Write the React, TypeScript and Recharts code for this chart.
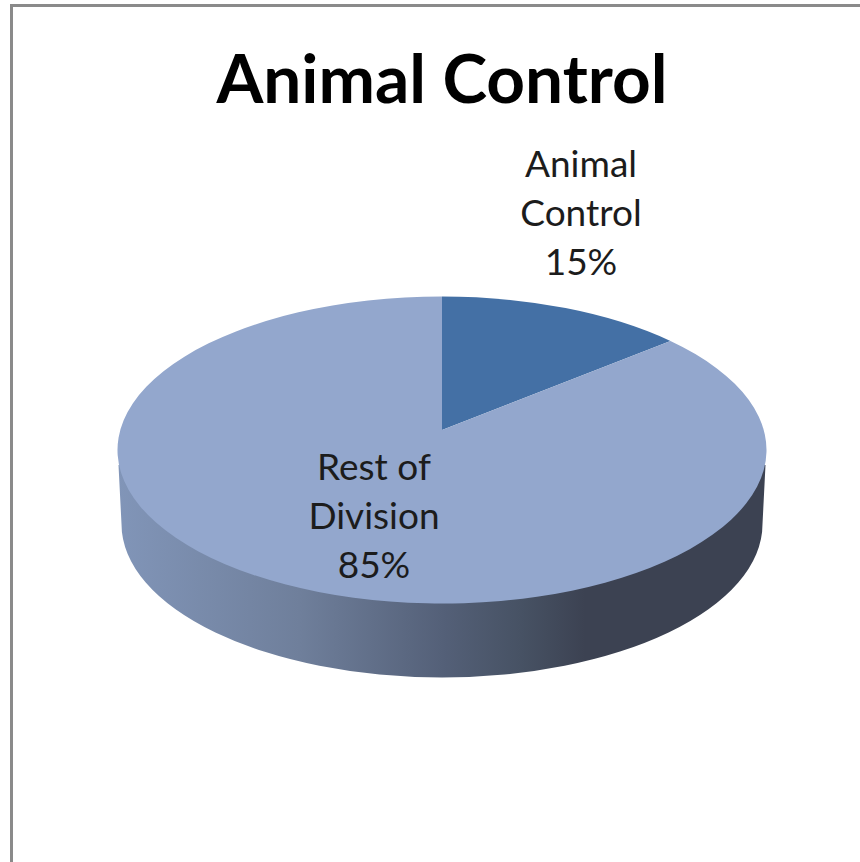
import { Pie, PieChart } from "recharts";

const categories = ["Animal Control", "Rest of Division"];
const shares = [15, 85];
const sliceColors = ["#4470A5", "#93A7CD"];
const labelLines = [["Animal", "Control"], ["Rest of", "Division"]];

const slices = categories.map((name, i) => ({ name, value: shares[i], fill: sliceColors[i] }));

const WIDTH = 860;
const HEIGHT = 862;
const CX = 442;
const CY = 450;
const RX = 324.5;
const FLATTEN = 153.5 / 324.5; // vertical squash of the tilted disc
const APEX_LIFT = 20; // perspective moves the visual centre up
const PERSPECTIVE = 0.21;
const WALL = 74;
const LABEL_FONT = "Lato, 'Open Sans', sans-serif";

// screen point on the rim for a recharts angle, with a projective warp so the
// far slices look narrower, the way Excel's 3D pie does
function rim(deg: number, cx: number, cy: number, r: number) {
  const t = ((90 - deg) * Math.PI) / 180;
  const u = Math.sin(t);
  const v = Math.cos(t);
  const d = 1 + PERSPECTIVE * v;
  return {
    x: cx + (r * u * Math.sqrt(1 - PERSPECTIVE * PERSPECTIVE)) / d,
    y: cy - (r * FLATTEN * (v + PERSPECTIVE)) / d,
  };
}

function TopSlice(props: any) {
  const { cx, cy, outerRadius: r, startAngle, endAngle, fill } = props;
  const a = rim(startAngle, cx, cy, r);
  const b = rim(endAngle, cx, cy, r);
  const large = Math.abs(endAngle - startAngle) > 180 ? 1 : 0;
  const d = `M${cx},${cy - APEX_LIFT} L${a.x},${a.y} A${r},${r * FLATTEN} 0 ${large} 1 ${b.x},${b.y} Z`;
  return <path d={d} fill={fill} stroke="none" />;
}

// side wall only shows for the front half, which belongs to the big slice
function WallSlice(props: any) {
  const { cx, cy, outerRadius: r, startAngle, endAngle } = props;
  if (Math.abs(endAngle - startAngle) < 180) return <g />;
  const ry = r * FLATTEN;
  const d = `M${cx - r + 1},${cy + 15} L${cx - r + 4},${cy + WALL} A${r - 4},${ry} 0 0 0 ${cx + r - 4},${cy + WALL} L${cx + r - 1},${cy + 15} Z`;
  return <path d={d} fill="url(#wallShade)" stroke="none" />;
}

function sliceLabel(props: any) {
  const { index, percent } = props;
  const x = index === 0 ? 581 : 374;
  const y = index === 0 ? 177 : 480;
  return (
    <text x={x} y={y} textAnchor="middle" fontFamily={LABEL_FONT} fontSize={37} fill="#1c1c1c">
      {labelLines[index].map((line, i) => (
        <tspan key={line} x={x} y={y + i * 49}>
          {line}
        </tspan>
      ))}
      <tspan x={x} y={y + 98}>{`${Math.round(percent * 100)}%`}</tspan>
    </text>
  );
}

export default function App() {
  return (
    <div style={{ position: "absolute", left: 0, top: 0, width: WIDTH, height: HEIGHT, overflow: "hidden", background: "#fff" }}>
      <div
        style={{
          position: "absolute",
          left: 10,
          top: 4,
          right: 0,
          bottom: 0,
          borderLeft: "3px solid #8a8a8a",
          borderTop: "3px solid #8a8a8a",
        }}
      />
      <PieChart width={WIDTH} height={HEIGHT} margin={{ top: 0, right: 0, bottom: 0, left: 0 }}>
        <defs>
          <linearGradient id="wallShade" x1="118" x2="767" y1="0" y2="0" gradientUnits="userSpaceOnUse">
            <stop offset="0" stopColor="#8195B8" />
            <stop offset="0.28" stopColor="#6F7F9B" />
            <stop offset="0.5" stopColor="#546078" />
            <stop offset="0.62" stopColor="#475264" />
            <stop offset="0.72" stopColor="#3C4252" />
            <stop offset="1" stopColor="#3C4252" />
          </linearGradient>
        </defs>
        <text
          x={442}
          y={103}
          textAnchor="middle"
          fontFamily={LABEL_FONT}
          fontWeight={700}
          fontSize={67.5}
          fill="#000"
        >
          Animal Control
        </text>
        <Pie
          data={slices}
          dataKey="value"
          cx={CX}
          cy={CY}
          outerRadius={RX}
          startAngle={90}
          endAngle={-270}
          stroke="none"
          shape={WallSlice}
          isAnimationActive={false}
        />
        <Pie
          data={slices}
          dataKey="value"
          cx={CX}
          cy={CY}
          outerRadius={RX}
          startAngle={90}
          endAngle={-270}
          stroke="none"
          shape={TopSlice}
          label={sliceLabel}
          labelLine={false}
          isAnimationActive={false}
        />
      </PieChart>
    </div>
  );
}
